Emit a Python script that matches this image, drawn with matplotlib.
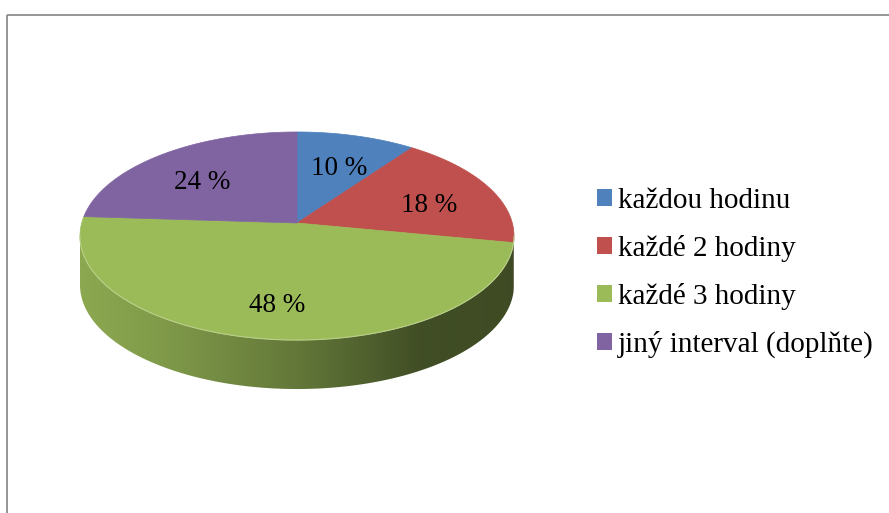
import numpy as np
import matplotlib.pyplot as plt
from matplotlib.colors import to_rgb
from matplotlib.patches import Polygon, Patch, Rectangle

# data
categories = ['každou hodinu', 'každé 2 hodiny', 'každé 3 hodiny', 'jiný interval (doplňte)']
values = [10, 18, 48, 24]
labels = ['10 %', '18 %', '48 %', '24 %']
colors = ['#4f81bd', '#c0504d', '#9bbb59', '#8064a2']

# pie geometry (pixels), simple perspective of a tilted disk
cx, cy = 297, 223
a, b, k = 215.3, 102.4, 0.125
depth = 49


def project(u, v):
    w = 1 + k * v
    return cx + a * u / w, cy - b * v / w


def arc(t0, t1, n=120):
    t = np.radians(np.linspace(t0, t1, n))
    return project(np.sin(t), np.cos(t))


fig = plt.figure(figsize=(8.89, 5.13), dpi=100)
ax = fig.add_axes([0, 0, 1, 1])
ax.set_xlim(0, 889)
ax.set_ylim(513, 0)
ax.axis('off')

# chart frame
ax.add_patch(Rectangle((7, 15), 900, 520, fill=False, edgecolor='#8c8c8c', lw=1.3))

total = sum(values)
angles = np.concatenate([[0], np.cumsum(values) / total * 360])

# visible front wall between the widest points
s = np.degrees(np.arcsin(np.sqrt(1 - k**2)))
front_lo, front_hi = 180 - s, 180 + s

xg = np.linspace(70, 520, 300)
shade = np.interp(xg, [79, 150, 297, 420, 513], [0.90, 0.84, 0.64, 0.42, 0.40])

for i in range(len(values)):
    lo = max(angles[i], front_lo)
    hi = min(angles[i + 1], front_hi)
    if lo >= hi:
        continue
    x, y = arc(lo, hi)
    pts = np.column_stack([np.r_[x, x[::-1]], np.r_[y, y[::-1] + depth]])
    poly = Polygon(pts, closed=True, facecolor='none', edgecolor='none')
    ax.add_patch(poly)
    base = np.array(to_rgb(colors[i]))
    img = (shade[:, None] * base[None, :])[None, :, :]
    im = ax.imshow(img, extent=[70, 520, 400, 100], aspect='auto', zorder=1)
    im.set_clip_path(poly)

# top face
for i in range(len(values)):
    x, y = arc(angles[i], angles[i + 1])
    pts = np.column_stack([np.r_[cx, x], np.r_[cy, y]])
    ax.add_patch(Polygon(pts, closed=True, facecolor=colors[i], edgecolor=colors[i],
                         lw=0.5, zorder=2))

# light rim along the front edge
x, y = arc(front_lo, front_hi)
ax.plot(x, y, color='#b9cf8a', lw=0.8, zorder=3)

# data labels
for i in range(len(values)):
    mid = np.radians((angles[i] + angles[i + 1]) / 2)
    lx, ly = project(0.68 * np.sin(mid), 0.68 * np.cos(mid))
    ax.text(lx, ly + 7, labels[i], ha='center', va='center', fontsize=19.5,
            family='Liberation Serif', color='black', zorder=4)

handles = [Patch(facecolor=c, edgecolor='none') for c in colors]
ax.legend(handles, categories, loc='center left', bbox_to_anchor=(597 / 889, 1 - 273 / 513),
          frameon=False, prop={'family': 'Liberation Serif', 'size': 21},
          handlelength=0.52, handleheight=0.52, handletextpad=0.2,
          labelspacing=0.72, borderpad=0, borderaxespad=0)

plt.savefig('out.png', dpi=100)
